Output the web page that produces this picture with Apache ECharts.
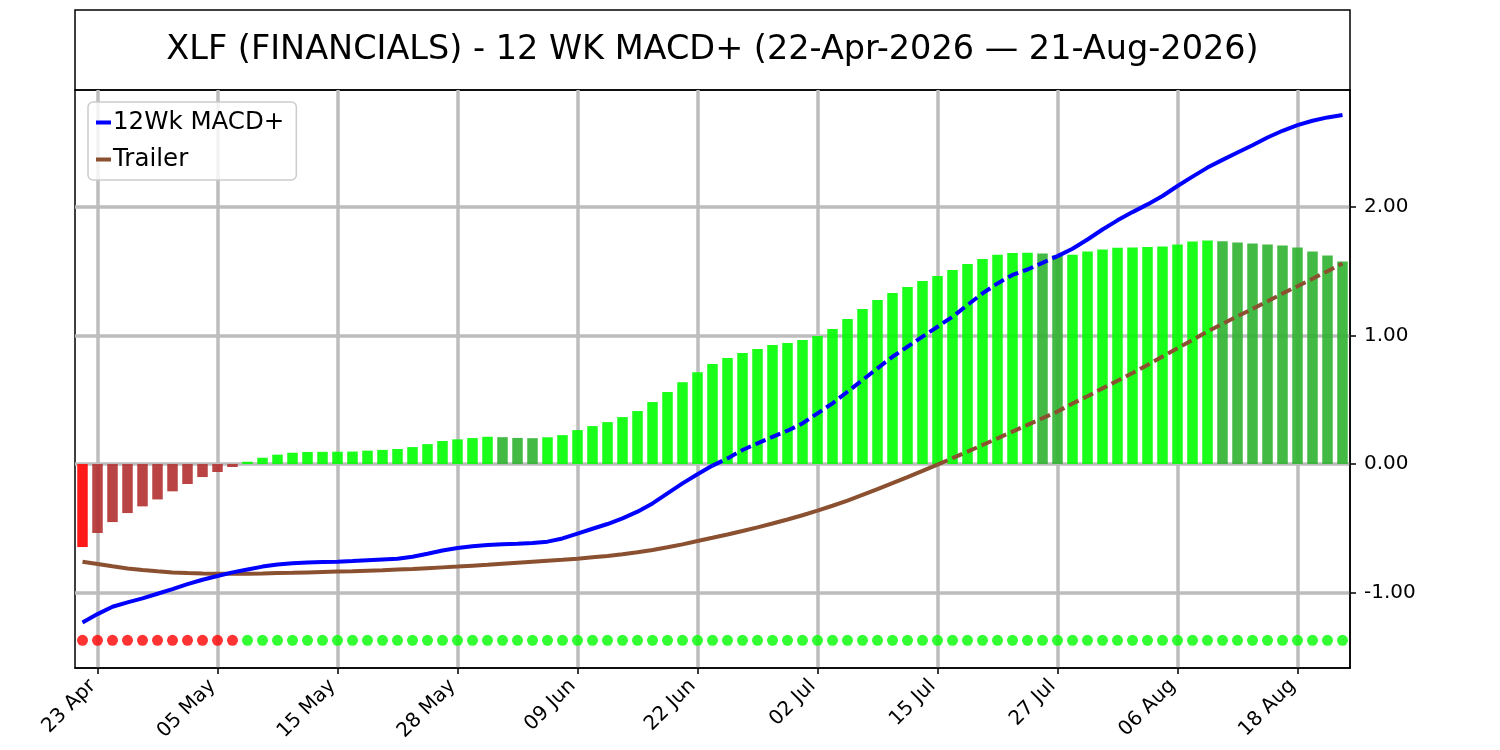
<!DOCTYPE html>
<html>
<head>
<meta charset="UTF-8">
<title>XLF 12 WK MACD+</title>
<script src="https://cdn.jsdelivr.net/npm/echarts@6/dist/echarts.min.js"></script>
<style>
  * { margin: 0; padding: 0; }
  html, body { background: #fff; }
  #chart { width: 1500px; height: 750px; }
</style>
</head>
<body>
<div id="chart"></div>
<script>
// trading days 22-Apr-2026 .. 21-Aug-2026
var dates = [
  '22 Apr','23 Apr','24 Apr','27 Apr','28 Apr','29 Apr','30 Apr','01 May','04 May','05 May',
  '06 May','07 May','08 May','11 May','12 May','13 May','14 May','15 May','18 May','19 May',
  '20 May','21 May','22 May','26 May','27 May','28 May','29 May','01 Jun','02 Jun','03 Jun',
  '04 Jun','05 Jun','08 Jun','09 Jun','10 Jun','11 Jun','12 Jun','15 Jun','16 Jun','17 Jun',
  '18 Jun','22 Jun','23 Jun','24 Jun','25 Jun','26 Jun','29 Jun','30 Jun','01 Jul','02 Jul',
  '06 Jul','07 Jul','08 Jul','09 Jul','10 Jul','13 Jul','14 Jul','15 Jul','16 Jul','17 Jul',
  '20 Jul','21 Jul','22 Jul','23 Jul','24 Jul','27 Jul','28 Jul','29 Jul','30 Jul','31 Jul',
  '03 Aug','04 Aug','05 Aug','06 Aug','07 Aug','10 Aug','11 Aug','12 Aug','13 Aug','14 Aug',
  '17 Aug','18 Aug','19 Aug','20 Aug','21 Aug'
];

var hist = [
  -0.645,-0.536,-0.451,-0.381,-0.329,-0.275,-0.212,-0.155,-0.101,-0.062,
  -0.023, 0.018, 0.049, 0.073, 0.088, 0.094, 0.095, 0.096, 0.097, 0.104,
   0.110, 0.117, 0.132, 0.155, 0.179, 0.192, 0.202, 0.212, 0.209, 0.203,
   0.201, 0.208, 0.225, 0.264, 0.295, 0.326, 0.365, 0.412, 0.482, 0.560,
   0.636, 0.714, 0.777, 0.824, 0.863, 0.894, 0.925, 0.940, 0.964, 0.995,
   1.049, 1.127, 1.205, 1.275, 1.329, 1.376, 1.422, 1.461, 1.508, 1.554,
   1.593, 1.626, 1.640, 1.643, 1.636, 1.622, 1.626, 1.652, 1.668, 1.681,
   1.683, 1.686, 1.691, 1.706, 1.730, 1.738, 1.731, 1.722, 1.714, 1.706,
   1.699, 1.683, 1.652, 1.621, 1.574
];

var macd = [
  -1.231,-1.166,-1.109,-1.075,-1.044,-1.008,-0.972,-0.933,-0.899,-0.870,
  -0.842,-0.819,-0.797,-0.781,-0.771,-0.765,-0.762,-0.759,-0.754,-0.748,
  -0.742,-0.736,-0.720,-0.697,-0.672,-0.653,-0.639,-0.630,-0.624,-0.619,
  -0.613,-0.603,-0.578,-0.540,-0.503,-0.466,-0.422,-0.370,-0.306,-0.228,
  -0.150,-0.079,-0.012, 0.044, 0.109, 0.161, 0.212, 0.259, 0.316, 0.394,
   0.472, 0.562, 0.653, 0.744, 0.834, 0.912, 0.990, 1.067, 1.145, 1.236,
   1.326, 1.404, 1.470, 1.512, 1.564, 1.616, 1.673, 1.745, 1.823, 1.894,
   1.958, 2.018, 2.083, 2.161, 2.234, 2.304, 2.364, 2.421, 2.478, 2.538,
   2.590, 2.634, 2.668, 2.694, 2.712
];

var trailer = [
  -0.759,-0.777,-0.795,-0.811,-0.824,-0.834,-0.842,-0.847,-0.850,-0.852,
  -0.852,-0.852,-0.850,-0.847,-0.845,-0.842,-0.839,-0.836,-0.833,-0.829,
  -0.825,-0.820,-0.815,-0.809,-0.803,-0.797,-0.790,-0.783,-0.775,-0.767,
  -0.759,-0.751,-0.744,-0.736,-0.725,-0.714,-0.701,-0.686,-0.668,-0.647,
  -0.624,-0.598,-0.573,-0.547,-0.520,-0.492,-0.462,-0.431,-0.398,-0.362,
  -0.324,-0.284,-0.240,-0.194,-0.148,-0.101,-0.053,-0.004, 0.046, 0.096,
   0.148, 0.200, 0.252, 0.304, 0.356, 0.408, 0.470, 0.527, 0.588, 0.648,
   0.707, 0.770, 0.835, 0.900, 0.965, 1.030, 1.090, 1.148, 1.206, 1.265,
   1.325, 1.382, 1.440, 1.499, 1.558
];

var dotLevel = -1.37;
var labelIdx = [1, 9, 17, 25, 33, 41, 49, 57, 65, 73, 81];
var yTicks = [-1, 0, 1, 2];

var FONT = 'DejaVu Sans';
var BLUE = '#0000ff', BROWN = '#8a5030';

function barColor(i) {
  var h = hist[i], prev = i > 0 ? hist[i - 1] : 0;
  if (h < 0) return h < prev ? '#ff0000' : '#b32f2f';
  return h >= prev ? '#00ff00' : '#2fb32f';
}

// a line is dashed where it runs inside the histogram bars
function splitLine(line) {
  var n = line.length;
  function inside(i) { return line[i] > 0 && line[i] < hist[i]; }
  function segDash(k) { return inside(k + 1); }
  var solid = [], dashed = [];
  for (var i = 0; i < n; i++) {
    var s = (i > 0 && !segDash(i - 1)) || (i < n - 1 && !segDash(i));
    var d = (i > 0 && segDash(i - 1)) || (i < n - 1 && segDash(i));
    solid.push([i, s ? line[i] : null]);
    dashed.push([i, d ? line[i] : null]);
  }
  return { solid: solid, dashed: dashed };
}

var macdParts = splitLine(macd);
var trailParts = splitLine(trailer);

var chart = echarts.init(document.getElementById('chart'));

var option = {
  animation: false,
  backgroundColor: '#ffffff',
  textStyle: { fontFamily: FONT },
  graphic: [
    {
      type: 'rect',
      shape: { x: 75, y: 10, width: 1275, height: 80 },
      style: { fill: 'none', stroke: '#000', lineWidth: 1.5 }
    },
    {
      type: 'text',
      x: 712.5, y: 50,
      style: {
        text: 'XLF (FINANCIALS) - 12 WK MACD+ (22-Apr-2026 \u2014 21-Aug-2026)',
        fontFamily: FONT, fontSize: 33.5, fill: '#000',
        textAlign: 'center', textVerticalAlign: 'middle'
      }
    }
  ],
  legend: {
    data: ['12Wk MACD+', 'Trailer'],
    orient: 'vertical',
    left: 88, top: 102,
    icon: 'rect',
    itemWidth: 15, itemHeight: 4,
    itemGap: 12,
    padding: [8, 12, 8, 8],
    borderColor: '#cccccc', borderWidth: 1.5, borderRadius: 5,
    backgroundColor: 'rgba(255,255,255,0.8)',
    textStyle: { fontFamily: FONT, fontSize: 24.5, color: '#000', padding: [0, 0, 0, -3] }
  },
  grid: {
    left: 75, right: 150, top: 90, bottom: 82,
    show: true, borderColor: '#000', borderWidth: 1.5, backgroundColor: 'transparent'
  },
  xAxis: {
    type: 'value',
    min: -0.5, max: dates.length - 0.5,
    axisLine: { show: true, onZero: false, lineStyle: { color: '#000', width: 1.5 } },
    axisTick: { show: true, customValues: labelIdx, length: 6, lineStyle: { color: '#000', width: 1.5 } },
    axisLabel: {
      customValues: labelIdx,
      formatter: function (v) { return dates[Math.round(v)]; },
      rotate: 45, margin: 10,
      padding: [0, 7, 0, 0],
      fontFamily: FONT, fontSize: 20, color: '#000'
    },
    splitLine: { show: true, lineStyle: { color: '#bdbdbd', width: 3.5 } }
  },
  yAxis: {
    type: 'value',
    position: 'right',
    min: -1.585, max: 2.907,
    axisLine: { show: true, onZero: false, lineStyle: { color: '#000', width: 1.5 } },
    axisTick: { show: true, customValues: yTicks, length: 6, lineStyle: { color: '#000', width: 1.5 } },
    axisLabel: {
      customValues: yTicks,
      formatter: function (v) { return v.toFixed(2); },
      margin: 14,
      fontFamily: FONT, fontSize: 20, color: '#000'
    },
    splitLine: { show: true, lineStyle: { color: '#bdbdbd', width: 3.5 } }
  },
  series: [
    {
      name: 'Histogram',
      type: 'bar',
      barWidth: 10.5,
      data: hist.map(function (v, i) { return [i, v]; }),
      itemStyle: {
        opacity: 0.9,
        color: function (p) { return barColor(p.dataIndex); }
      },
      z: 2
    },
    {
      name: 'Trailer',
      type: 'line',
      data: trailParts.solid,
      showSymbol: false, symbol: 'none',
      connectNulls: false,
      lineStyle: { color: BROWN, width: 4 },
      itemStyle: { color: BROWN },
      z: 3
    },
    {
      name: 'Trailer (in bars)',
      type: 'line',
      data: trailParts.dashed,
      showSymbol: false, symbol: 'none',
      connectNulls: false,
      lineStyle: { color: BROWN, width: 4, type: [11, 5] },
      z: 3
    },
    {
      name: '12Wk MACD+',
      type: 'line',
      data: macdParts.solid,
      showSymbol: false, symbol: 'none',
      connectNulls: false,
      lineStyle: { color: BLUE, width: 4 },
      itemStyle: { color: BLUE },
      z: 4
    },
    {
      name: '12Wk MACD+ (in bars)',
      type: 'line',
      data: macdParts.dashed,
      showSymbol: false, symbol: 'none',
      connectNulls: false,
      lineStyle: { color: BLUE, width: 4, type: [11, 5] },
      z: 4
    },
    {
      name: 'Signal',
      type: 'scatter',
      symbolSize: 11,
      data: hist.map(function (v, i) { return [i, dotLevel]; }),
      itemStyle: {
        color: function (p) { return hist[p.dataIndex] < 0 ? '#ff0000' : '#00ff00'; }
      },
      z: 5
    }
  ]
};

chart.setOption(option);
</script>
</body>
</html>
